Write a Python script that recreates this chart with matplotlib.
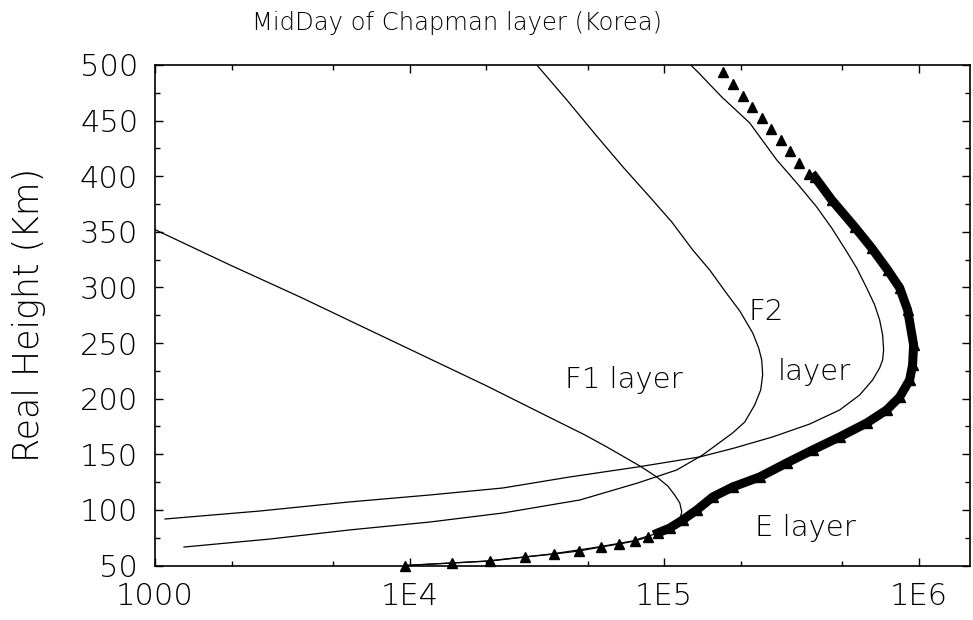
import matplotlib

matplotlib.use("Agg")

import matplotlib.pyplot as plt
from matplotlib.ticker import FixedLocator, LogLocator, MultipleLocator, NullFormatter


OUTPUT_FIGURE = "out.png"

TITLE = "MidDay of Chapman layer (Korea)"

X_TICKS = [1e3, 1e4, 1e5, 1e6]
X_TICK_LABELS = ["1000", "1E4", "1E5", "1E6"]
Y_TICKS = [50, 100, 150, 200, 250, 300, 350, 400, 450, 500]

# E layer profile (height km, electron density)
E_HEIGHT = [352, 320.2, 291.5, 263.6, 237.5, 211.4, 187.1, 167.4, 156.6,
            139.5, 129.6, 121.5, 113.4, 106.2, 98.1, 91.8, 86.4, 81.0,
            76.0, 72.0, 66.6, 60.3, 54.0, 50.0]
E_DENSITY = [1000, 1970, 3707, 6675, 11590, 20110, 32780, 48800, 59530,
             80240, 93540, 103300, 110000, 115200, 117300, 115200, 110000,
             101500, 85000, 75000, 55000, 36000, 20000, 9500]

# F1 layer profile
F1_HEIGHT = [500, 468.6, 437.1, 407.5, 381.4, 358.9, 333.7, 315.7, 296.9,
             278.9, 259.1, 245.6, 234.8, 221.3, 207.8, 194.3, 179.0, 169.2,
             159.3, 149.4, 135.9, 124.2, 108.9, 97.2, 89.1, 81.9, 73.8, 66.6]
F1_DENSITY = [31600, 41450, 53890, 69390, 87800, 107100, 129500, 151000,
              173000, 198100, 222800, 235100, 241700, 243800, 239500, 226800,
              207300, 185900, 162300, 141800, 112100, 78770, 46640, 23250,
              12020, 5777, 2828, 1300]

# F2 layer profile
F2_HEIGHT = [500, 493.8, 471.3, 447.9, 414.7, 394.0, 372.4, 353.5, 333.7,
             317.5, 299.6, 284.3, 270.8, 257.3, 243.8, 234.8, 227.6, 216.8,
             203.3, 189.8, 177.2, 165.6, 155.7, 147.6, 138.6, 129.6, 119.7,
             113.4, 107.1, 99.0, 91.8]
F2_DENSITY = [127200, 135500, 168300, 216800, 276700, 331600, 397300, 455000,
              516400, 570400, 624500, 671300, 702300, 721500, 728000, 721500,
              702300, 659000, 586100, 489000, 373100, 266900, 189300, 138000,
              78770, 42590, 23250, 12020, 5777, 2584, 1095]

# combined profile, upper part (sparse samples)
TOTAL_TOP_HEIGHT = [493.8, 483.0, 472.2, 462.3, 452.4, 442.5, 432.7,
                    422.8, 411.9, 402.1]
TOTAL_TOP_DENSITY = [169800, 185900, 203500, 220800, 241800, 262100, 287000,
                     311300, 337600, 369700]

# combined profile, main part (dense samples)
TOTAL_MID_HEIGHT = [399.4, 378.7, 354.4, 335.5, 315.7, 299.6, 279.8, 248.3,
                    230.3, 216.8, 201.5, 189.8, 178.1, 165.6, 153.9, 142.2,
                    129.6, 120.6, 111.6, 99.9, 91.0, 83.7, 79.2]
TOTAL_MID_DENSITY = [390200, 455000, 560300, 653100, 755100, 841900, 904400,
                     955000, 946000, 921000, 841900, 748200, 624300, 489000,
                     383200, 302900, 237300, 185900, 155200, 134300, 118300,
                     105200, 94370]

# combined profile, bottom part (sparse samples)
TOTAL_LOW_HEIGHT = [75.6, 72.0, 69.3, 66.6, 63.0, 60.3, 57.6, 54.0, 52.2, 50.0]
TOTAL_LOW_DENSITY = [86250, 76650, 66330, 56370, 46200, 36850, 28360, 20670,
                     14660, 9583]

LABELS = [
    ("F1 layer", 40700, 217),
    ("F2", 215000, 278),
    ("layer", 279000, 224),
    ("E layer", 227000, 83.7),
]

TEXT_WEIGHT = "ultralight"


def style_axes(axes) -> None:
    axes.set_xscale("log")
    axes.set_xlim(1000, 1.59e6)
    axes.set_ylim(50, 500)

    axes.xaxis.set_major_locator(FixedLocator(X_TICKS))
    axes.set_xticklabels(X_TICK_LABELS, fontweight=TEXT_WEIGHT)
    axes.xaxis.set_minor_locator(LogLocator(base=10, subs=(2.0, 5.0)))
    axes.xaxis.set_minor_formatter(NullFormatter())

    axes.yaxis.set_major_locator(FixedLocator(Y_TICKS))
    axes.set_yticklabels([str(v) for v in Y_TICKS], fontweight=TEXT_WEIGHT)
    axes.yaxis.set_minor_locator(MultipleLocator(25))

    axes.tick_params(
        which="both",
        direction="in",
        top=True,
        right=True,
        width=1.0,
        labelsize=22,
    )
    axes.tick_params(which="major", length=6)
    axes.tick_params(which="minor", length=3.5)
    axes.tick_params(axis="x", pad=12)
    axes.tick_params(axis="y", pad=12)

    for spine in axes.spines.values():
        spine.set_linewidth(1.2)

    axes.set_ylabel(
        "Real Height (Km)",
        fontsize=25,
        fontweight=TEXT_WEIGHT,
        labelpad=24,
    )


def plot_profiles() -> None:
    figure = plt.figure(figsize=(9.73, 6.2), dpi=100)
    axes = figure.add_axes([0.1593, 0.0879, 0.8376, 0.8073])

    line_style = dict(color="black", linewidth=0.9)

    axes.plot(E_DENSITY, E_HEIGHT, **line_style)
    axes.plot(F1_DENSITY, F1_HEIGHT, **line_style)
    axes.plot(F2_DENSITY, F2_HEIGHT, **line_style)

    # combined profile drawn with triangles
    axes.plot(
        TOTAL_TOP_DENSITY,
        TOTAL_TOP_HEIGHT,
        linestyle="none",
        marker="^",
        markersize=7.5,
        color="black",
    )
    axes.plot(
        TOTAL_MID_DENSITY,
        TOTAL_MID_HEIGHT,
        linestyle="-",
        linewidth=6.5,
        marker="^",
        markersize=7.5,
        color="black",
    )
    axes.plot(
        TOTAL_LOW_DENSITY,
        TOTAL_LOW_HEIGHT,
        linestyle="-",
        linewidth=0.9,
        marker="^",
        markersize=7.5,
        color="black",
        clip_on=False,
    )

    for text, x_value, y_value in LABELS:
        axes.text(
            x_value,
            y_value,
            text,
            fontsize=21,
            fontweight=TEXT_WEIGHT,
            ha="left",
            va="center",
        )

    style_axes(axes)

    figure.text(
        0.47,
        0.963,
        TITLE,
        fontsize=17.5,
        fontweight=TEXT_WEIGHT,
        ha="center",
        va="center",
    )

    figure.savefig(OUTPUT_FIGURE, dpi=100)
    plt.close(figure)


def main() -> None:
    plt.rcParams["font.family"] = ["DejaVu Sans"]
    plot_profiles()


if __name__ == "__main__":
    main()
